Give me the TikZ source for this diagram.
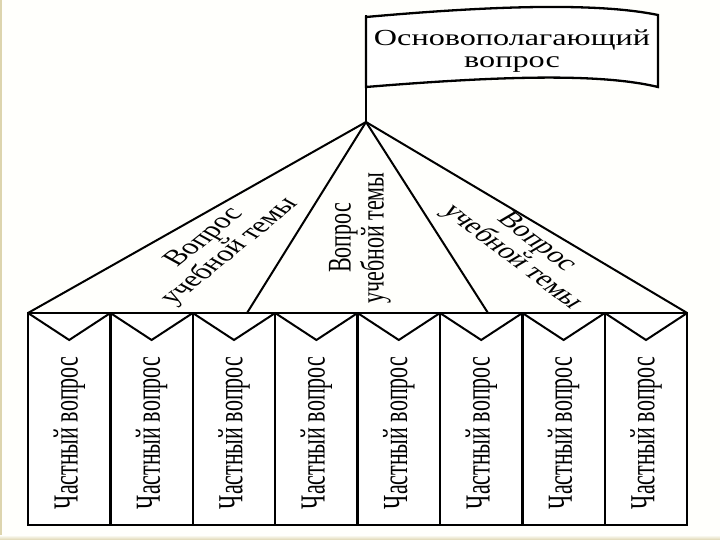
\documentclass[tikz,border=0pt]{standalone}
\usepackage{fontspec}
\setmainfont{Liberation Serif}
\usetikzlibrary{calc}
\definecolor{bgcol}{HTML}{FFFFFC}
\definecolor{edgecol}{HTML}{DDD5AE}
\begin{document}
\begin{tikzpicture}[x=1pt,y=-1pt,line join=miter,
  ln/.style={line width=2pt},
  colbox/.style={draw,line width=2.5pt,minimum width=82.4pt,minimum height=212pt,inner sep=0pt,outer sep=0pt,fill=white},
  lbl/.style={font=\fontsize{22}{22}\selectfont,align=center,inner sep=0pt,transform shape},
  flagtxt/.style={font=\fontsize{23}{22}\selectfont,align=center,inner sep=0pt,transform shape}]
\fill[bgcol] (0,0) rectangle (720,540);
\useasboundingbox (0,0) rectangle (720,540);
\fill[edgecol] (0,0) rectangle (1.5,540);
\shade[top color=bgcol,bottom color=edgecol] (0,535) rectangle (720,540);
% columns
\foreach \i in {1,...,8}{
  \node[colbox] (c\i) at ({28+82.4*(\i-0.5)},419) {};
  \draw[ln] (c\i.north west) -- ($(c\i.north)+(0,27)$) -- (c\i.north east);
  \begin{scope}[shift={({28+82.4*(\i-0.5)},433)},xscale=1.6]
    \node[lbl,rotate=90] (t\i) at (0,0) {Частный вопрос};
  \end{scope}
}
% roof
\coordinate (apex) at (366,122);
\coordinate (inL) at (247,313);
\coordinate (inR) at (488,313);
\coordinate (poletop) at (366,15);
\draw[ln] (c1.north west) -- (apex) -- (c8.north east);
\draw[ln] (apex) -- (inL);
\draw[ln] (apex) -- (inR);
% flag
\draw[line width=2.5pt] (apex) -- (poletop);
\draw[line width=2.3pt,fill=white] (366,17) .. controls (500,5) and (600,3) .. (658,15) -- (658,87)
  .. controls (600,73) and (500,76) .. (366,87) -- cycle;
\begin{scope}[shift={(512,51)},xscale=1.4]
  \node[flagtxt] (flag) at (0,0) {Основополагающий\\вопрос};
\end{scope}
% topic questions
\begin{scope}[shift={(218,245)},xscale=1.5]
  \node[lbl,rotate=50.5] (q1) at (0,0) {Вопрос\\учебной темы};
\end{scope}
\begin{scope}[shift={(360,238)},xscale=1.5]
  \node[lbl,rotate=90] (q2) at (0,0) {Вопрос\\учебной темы};
\end{scope}
\begin{scope}[shift={(524,250)},xscale=1.5]
  \node[lbl,rotate=-48.5] (q3) at (0,0) {Вопрос\\учебной темы};
\end{scope}
\end{tikzpicture}
\end{document}
